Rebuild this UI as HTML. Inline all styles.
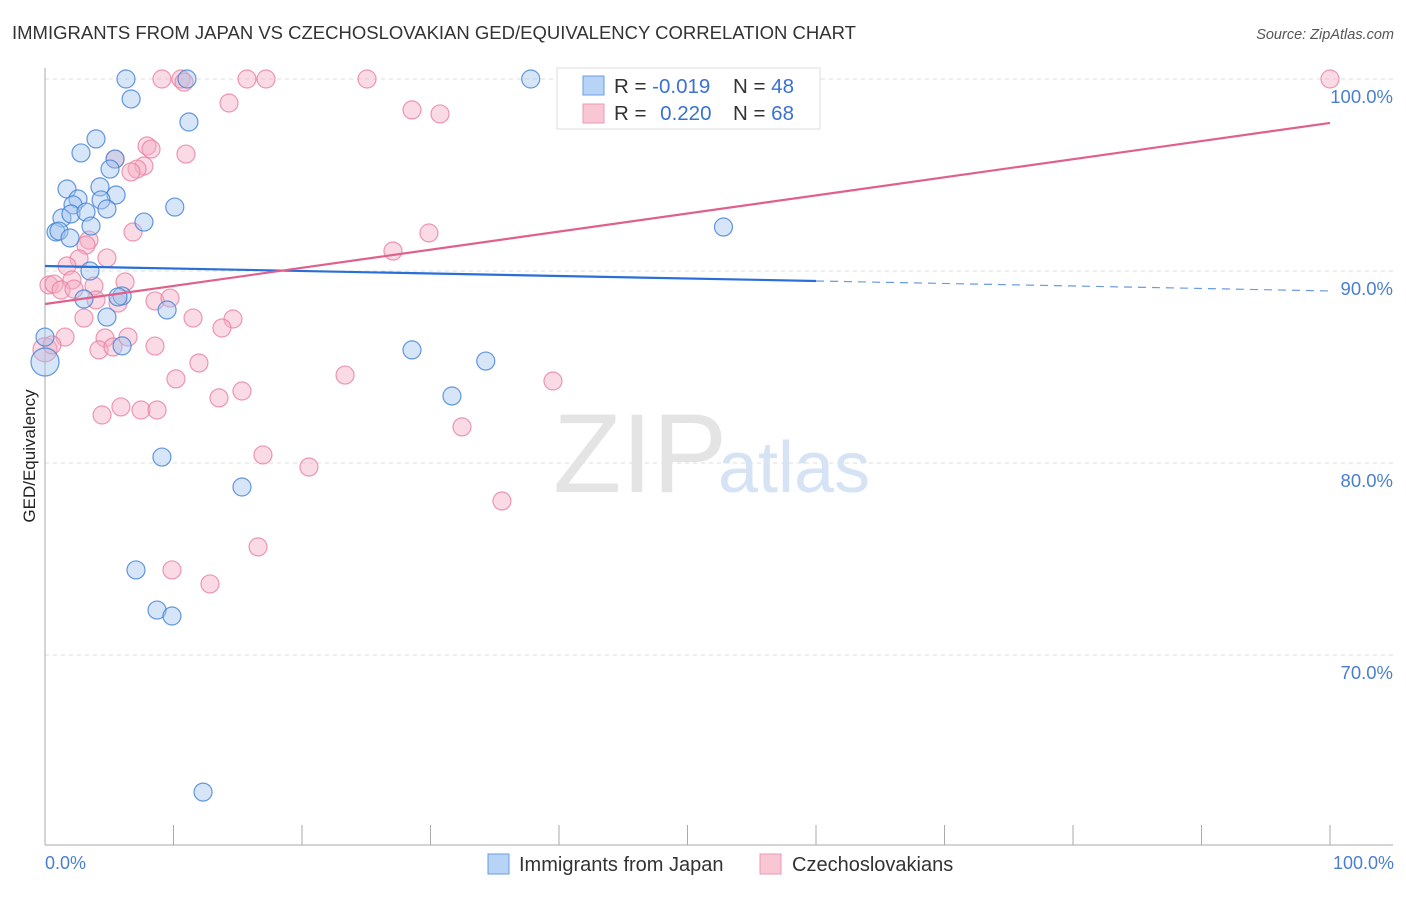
<!DOCTYPE html>
<html><head><meta charset="utf-8"><style>
body{margin:0;background:#fff;font-family:"Liberation Sans",sans-serif}
svg text{font-family:"Liberation Sans",sans-serif}
</style></head><body>
<svg width="1406" height="892" xmlns="http://www.w3.org/2000/svg">
<text x="12" y="39" font-size="18.5" fill="#333">IMMIGRANTS FROM JAPAN VS CZECHOSLOVAKIAN GED/EQUIVALENCY CORRELATION CHART</text>
<text x="1394" y="39" font-size="14.5" fill="#555" font-style="italic" text-anchor="end">Source: ZipAtlas.com</text>
<g id="grid"></g>
<g id="axes"></g>
<text x="553" y="492" font-size="112" fill="#e4e4e4" font-family="Liberation Serif">ZIP</text>
<text x="718" y="492" font-size="72" fill="#d5e3f5">atlas</text>
<g id="pts"></g>
<g id="lines"></g>
<text transform="translate(35,456) rotate(-90)" font-size="17" fill="#222" text-anchor="middle">GED/Equivalency</text>
<text x="45" y="869" font-size="18" fill="#4a7fd0">0.0%</text>
<text x="1394" y="869" font-size="18" fill="#4a7fd0" text-anchor="end">100.0%</text>
<g>
<rect x="557" y="68" width="263" height="61" fill="#fff" stroke="#ddd"/>
<rect x="583" y="76" width="21" height="19" fill="#b7d3f5" stroke="#6b9de0"/>
<rect x="583" y="104" width="21" height="19" fill="#f9c6d4" stroke="#ec9ab4"/>
<text x="614" y="93" font-size="20.5" fill="#333">R = <tspan fill="#3a72d0">-0.019</tspan></text>
<text x="733" y="93" font-size="20.5" fill="#333">N = <tspan fill="#3a72d0">48</tspan></text>
<text x="614" y="120" font-size="20.5" fill="#333">R = <tspan fill="#3a72d0" dx="8">0.220</tspan></text>
<text x="733" y="120" font-size="20.5" fill="#333">N = <tspan fill="#3a72d0">68</tspan></text>
</g>
<g>
<rect x="488" y="854" width="21" height="20" fill="#b7d3f5" stroke="#6b9de0"/>
<text x="519" y="871" font-size="20" fill="#333">Immigrants from Japan</text>
<rect x="760" y="854" width="21" height="20" fill="#f9c6d4" stroke="#ec9ab4"/>
<text x="792" y="871" font-size="20" fill="#333">Czechoslovakians</text>
</g>
</svg>
<script>
const yTicks=[100,90,80,70];
const yTickLabels=["100.0%","90.0%","80.0%","70.0%"];
const xTicks=[0,10,20,30,40,50,60,70,80,90,100];
const blueX=[6.3,11.05,37.8,6.7,11.2,3.97,2.8,5.45,5.06,4.28,1.71,5.53,2.57,4.36,2.18,4.82,10.1,1.32,2.02,3.19,7.7,3.58,0.86,1.09,1.95,52.8,3.5,6.0,3.03,9.5,4.82,0,6.0,28.56,34.3,0,31.67,9.1,15.33,7.08,8.72,9.88,12.3,5.68];
const blueY=[100,100,100,98.96,97.76,96.88,96.15,95.83,95.31,94.38,94.27,93.96,93.75,93.7,93.44,93.23,93.33,92.76,92.97,93.07,92.55,92.34,92.03,92.08,91.72,92.29,90.0,88.7,88.54,87.97,87.6,86.56,86.1,85.89,85.31,85.26,83.49,80.31,78.75,74.43,72.34,72.03,62.86,88.65];
const pinkX=[9.1,10.58,10.82,15.72,17.2,25.06,43.27,50.04,100,14.32,28.56,30.74,7.94,8.25,10.97,5.45,7.7,7.16,6.69,6.85,3.42,3.19,27.08,29.88,2.65,4.82,1.71,2.1,6.23,3.81,0.31,0.7,1.25,2.26,3.97,5.68,8.56,9.73,11.52,14.63,3.03,13.77,1.56,4.67,6.46,4.2,5.29,8.56,11.98,10.19,23.35,39.53,15.33,13.54,5.91,7.47,8.72,4.44,32.45,16.96,20.54,35.56,16.58,9.88,12.84,0,0.54];
const pinkY=[100,100,99.84,100,100,100,100,100,100,98.75,98.39,98.18,96.51,96.35,96.09,95.83,95.47,95.31,95.16,92.03,91.61,91.35,91.04,91.98,90.63,90.68,90.26,89.53,89.43,89.22,89.27,89.32,89.01,89.06,88.49,88.33,88.44,88.59,87.55,87.5,87.55,87.03,86.56,86.51,86.56,85.89,86.04,86.09,85.21,84.38,84.58,84.27,83.75,83.39,82.92,82.76,82.76,82.5,81.88,80.42,79.79,78.02,75.63,74.43,73.7,85.9,86.15];
const blueTrend=[90.26,-0.013];
const pinkTrend=[88.28,0.0943];
const NS='http://www.w3.org/2000/svg';
const sx=v=>45+v*12.85;
const sy=v=>79+(100-v)*19.2;
function mk(tag,attrs,parent){const e=document.createElementNS(NS,tag);for(const k in attrs)e.setAttribute(k,attrs[k]);parent.appendChild(e);return e;}
const grid=document.getElementById('grid'),axes=document.getElementById('axes'),pts=document.getElementById('pts'),lines=document.getElementById('lines');
yTicks.forEach((t,i)=>{
 const l=mk('line',{x1:45,x2:1393,y1:sy(t),y2:sy(t),stroke:'#ddd','stroke-dasharray':'4,4'},grid);
 
 
 const tx=mk('text',{x:1393,y:sy(t)+24,'font-size':18.5,fill:'#4a7fd0','text-anchor':'end'},grid);
 tx.textContent=yTickLabels[i];
 
 
});
const ax=mk('line',{x1:45,x2:45,y1:68,y2:845,stroke:'#aaa'},axes);


const bx=mk('line',{x1:45,x2:1393,y1:845,y2:845,stroke:'#aaa'},axes);


xTicks.forEach(t=>{
 const l=mk('line',{x1:sx(t),x2:sx(t),y1:825,y2:845,stroke:'#aaa'},axes);
 
 
});
function dots(X,Y,fill,stroke,name,bigIdx,bigR){
 X.forEach((x,i)=>{
  const c=mk('circle',{cx:sx(x),cy:sy(Y[i]),r:i===bigIdx?bigR:9,fill:fill,'fill-opacity':0.45,stroke:stroke,'stroke-opacity':0.8,'stroke-width':1.2},pts);
  
  
 });
}
dots(pinkX,pinkY,'#f4aec3','#e87fa0','czech-point',65,12);
dots(blueX,blueY,'#a5c6f0','#3f7fd6','japan-point',35,14);
const bl=mk('line',{x1:sx(0),y1:sy(blueTrend[0]),x2:sx(60),y2:sy(blueTrend[0]+blueTrend[1]*60),stroke:'#2a6fd6','stroke-width':2.2},lines);


const bd=mk('line',{x1:sx(60),y1:sy(blueTrend[0]+blueTrend[1]*60),x2:sx(100),y2:sy(blueTrend[0]+blueTrend[1]*100),stroke:'#2a6fd6','stroke-width':1.2,'stroke-dasharray':'8,6','stroke-opacity':0.7},lines);


const pl=mk('line',{x1:sx(0),y1:sy(pinkTrend[0]),x2:sx(100),y2:sy(pinkTrend[0]+pinkTrend[1]*100),stroke:'#e0608c','stroke-width':2.2},lines);


</script>
</body></html>
